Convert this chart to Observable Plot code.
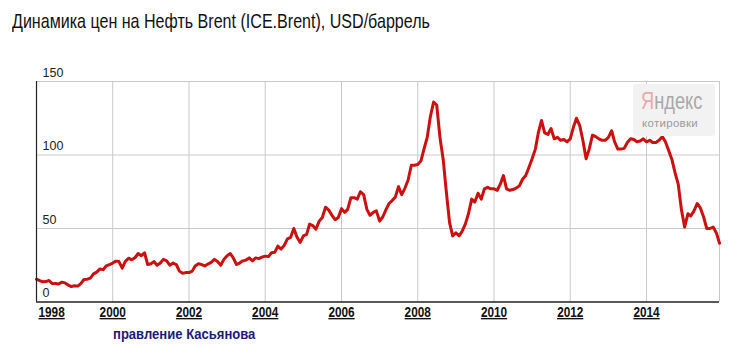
<!DOCTYPE html>
<html>
<head>
<meta charset="utf-8">
<script src="https://cdn.jsdelivr.net/npm/d3@7"></script>
<script src="https://cdn.jsdelivr.net/npm/@observablehq/plot@0.6"></script>
<style>
  html, body { margin: 0; padding: 0; background: #fff; }
  #wrap { position: relative; width: 741px; height: 346px; overflow: hidden; }
  #title { position: absolute; left: 12px; top: 9px; font-family: "Liberation Sans", Arial, sans-serif; font-size: 21px; color: #111; white-space: nowrap; transform: scaleX(0.765); transform-origin: left center; }
  #chart { position: absolute; left: 0; top: 60px; }
  #caption { position: absolute; left: 113px; top: 326px; font-family: "Liberation Sans", Arial, sans-serif; font-weight: bold; font-size: 14.5px; color: #1c1c78; white-space: nowrap; transform: scaleX(0.9); transform-origin: left center; }
  #wm { position: absolute; left: 633px; top: 84px; width: 82px; height: 52px; background: #f2f2f2; border-radius: 3px; }
  #wm .brand { position: absolute; left: 8px; top: 4px; font-family: "Liberation Sans", Arial, sans-serif; font-size: 24px; line-height: 26px; color: #a8a8a8; white-space: nowrap; transform: scaleX(0.76); transform-origin: left center; }
  #wm .brand span { color: #efa8a8; }
  #wm .sub { position: absolute; left: 9px; top: 33px; font-family: "Liberation Sans", Arial, sans-serif; font-size: 11.5px; color: #9a9a9a; line-height: 12px; letter-spacing: 0.3px; white-space: nowrap; }
  g[aria-label="x-axis tick label"] text { font-family: "Liberation Sans", Arial, sans-serif; font-weight: bold; font-size: 14px; text-decoration: underline; fill: #111; }
  g[aria-label="y-axis tick label"] text { font-family: "Liberation Sans", Arial, sans-serif; font-size: 12.5px; fill: #222; }
</style>
</head>
<body>
<div id="wrap">
  <div id="title">Динамика цен на Нефть Brent (ICE.Brent), USD/баррель</div>
  <div id="chart"></div>
  <div id="wm"><div class="brand"><span>Я</span>ндекс</div><div class="sub">котировки</div></div>
  <div id="caption">правление Касьянова</div>
</div>
<script>
// Monthly Brent price, USD/barrel, January 1998 .. December 2015
const startYear = 1998;
const brentMonthly = [
  15.5, 14.5, 13.8, 13.9, 14.6, 12.5, 12.6, 12.2, 13.5, 13.0, 11.5, 10.5,   // 1998
  11.0, 10.8, 12.5, 15.3, 15.5, 16.2, 19.1, 20.3, 22.5, 22.0, 24.6, 25.5,   // 1999
  26.5, 27.8, 27.5, 23.0, 27.6, 29.8, 28.7, 30.1, 33.0, 31.5, 33.5, 25.5,   // 2000
  26.0, 27.5, 25.0, 26.5, 29.0, 28.0, 25.0, 26.5, 25.5, 21.0, 19.5, 20.0,   // 2001
  20.0, 21.0, 24.5, 26.0, 25.5, 24.5, 25.8, 27.0, 29.0, 27.5, 25.0, 29.0,   // 2002
  31.5, 33.0, 30.0, 25.5, 26.5, 28.0, 28.5, 30.0, 28.0, 30.0, 29.5, 30.5,   // 2003
  31.2, 30.9, 33.5, 33.8, 38.0, 36.0, 38.5, 43.0, 44.0, 50.0, 44.0, 40.5,   // 2004
  45.0, 46.0, 53.0, 52.0, 49.5, 55.0, 57.5, 64.5, 62.5, 59.0, 56.0, 57.5,   // 2005
  63.5, 61.0, 63.0, 71.0, 71.0, 70.0, 75.0, 73.0, 63.0, 59.0, 61.0, 62.0,   // 2006
  55.0, 58.0, 62.5, 67.0, 69.0, 71.5, 78.5, 73.0, 77.5, 83.0, 93.0, 93.0,   // 2007
  93.5, 96.0, 104.0, 112.0, 126.0, 136.0, 134.0, 112.0, 97.0, 75.0, 54.0, 45.0, // 2008
  47.0, 45.0, 48.0, 53.0, 60.0, 70.0, 68.0, 74.0, 70.0, 77.0, 78.0, 77.0,   // 2009
  77.0, 76.0, 80.0, 86.0, 77.0, 76.0, 76.5, 77.5, 79.0, 83.5, 86.0, 91.5,   // 2010
  97.5, 104.0, 115.0, 123.5, 115.0, 114.0, 118.0, 111.0, 112.0, 110.0, 110.5, 109.0, // 2011
  111.0, 119.0, 125.0, 120.0, 110.0, 97.5, 104.0, 113.5, 112.5, 111.0, 110.0, 110.0, // 2012
  112.0, 116.5, 109.0, 104.0, 104.0, 104.5, 108.5, 111.0, 110.5, 109.0, 109.5, 111.0, // 2013
  109.0, 110.0, 108.5, 108.5, 110.0, 112.5, 109.0, 103.0, 97.0, 88.0, 80.0, 63.0,  // 2014
  51.0, 60.0, 58.5, 62.0, 67.0, 64.0, 58.0, 50.0, 50.0, 51.0, 47.0, 40.0     // 2015
];
const firstTickYear = [1998];
const tickYears = [2000, 2002, 2004, 2006, 2008, 2010, 2012, 2014];
const yTicks = [0, 50, 100, 150];
const yGrid = [50, 100, 150];

const utc = (y, m = 0) => new Date(Date.UTC(y, m, 1));
const data = brentMonthly.map((v, i) => ({ date: utc(startYear, i), price: v }));
const xStart = data[0].date;
const xEnd = data[data.length - 1].date;

const chart = Plot.plot({
  width: 741,
  height: 286,
  marginTop: 21,
  marginBottom: 44.5,
  marginLeft: 36,
  marginRight: 22,
  style: { background: "transparent", color: "#222" },
  x: { type: "utc", domain: [xStart, xEnd] },
  y: { domain: [0, 150] },
  marks: [
    Plot.gridX(tickYears.map(y => utc(y)), { stroke: "#c9c9c9", strokeOpacity: 1 }),
    Plot.gridY(yGrid, { stroke: "#c9c9c9", strokeOpacity: 1 }),
    Plot.ruleX([xEnd], { stroke: "#c9c9c9" }),
    Plot.lineY(data, { x: "date", y: "price", stroke: "#cc1010", strokeWidth: 3, strokeLinejoin: "round" }),
    Plot.ruleX([xStart], { stroke: "#222", strokeWidth: 1.2 }),
    Plot.ruleY([0], { stroke: "#222", strokeWidth: 1.5 }),
    Plot.axisY(yTicks, { tickSize: 0, textAnchor: "start", dx: 15, dy: -9, label: null, tickFormat: d => String(d) }),
    Plot.axisX(firstTickYear.map(y => utc(y)), { tickSize: 0, tickPadding: 5, textAnchor: "start", dx: 2, label: null, tickFormat: d => String(d.getUTCFullYear()) }),
    Plot.axisX(tickYears.map(y => utc(y)), { tickSize: 0, tickPadding: 5, label: null, tickFormat: d => String(d.getUTCFullYear()) })
  ]
});
document.getElementById("chart").appendChild(chart);
// condense the bold year labels like the narrow font of the original
chart.querySelectorAll('g[aria-label="x-axis tick label"] text').forEach(t => {
  const w = t.getComputedTextLength();
  t.setAttribute("textLength", (w * 0.84).toFixed(1));
  t.setAttribute("lengthAdjust", "spacingAndGlyphs");
});
</script>
</body>
</html>
